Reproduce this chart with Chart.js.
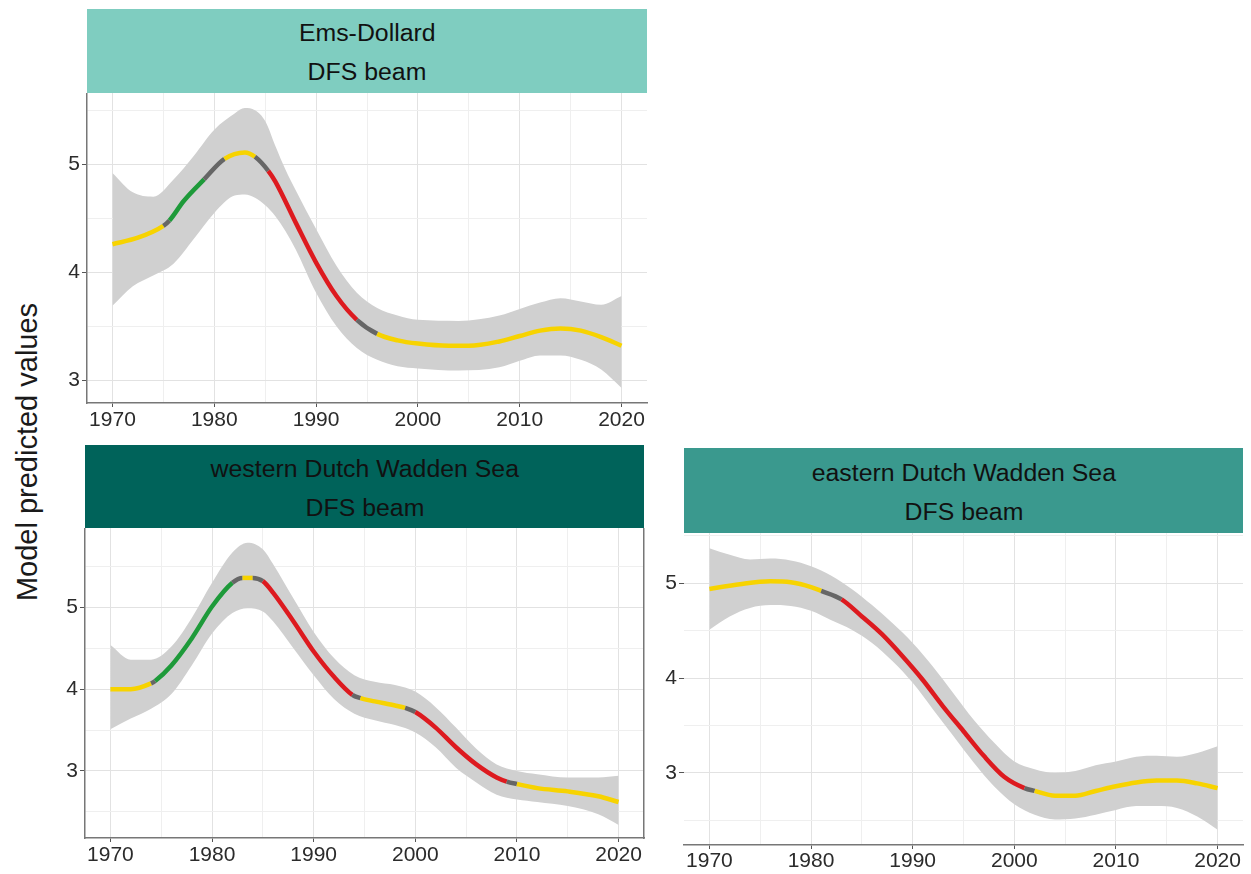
<!DOCTYPE html>
<html><head><meta charset="utf-8">
<script src="https://cdn.jsdelivr.net/npm/chart.js@4.4.1/dist/chart.umd.min.js"></script>
<style>
html,body{margin:0;padding:0;background:#fff;width:1251px;height:874px;overflow:hidden;font-family:"Liberation Sans",Arial,sans-serif;}
.strip{position:absolute;box-sizing:border-box;padding-top:4px;display:flex;flex-direction:column;justify-content:center;align-items:center;color:#111;font-size:23px;line-height:39px;}
.strip div{transform:scaleX(1.08);}
canvas{position:absolute;}
#ytitle{position:absolute;left:27px;top:452px;transform:translate(-50%,-50%) rotate(-90deg);font-size:29px;color:#1a1a1a;white-space:nowrap;}
</style></head><body>
<div id="ytitle">Model predicted values</div>
<div class="strip" style="left:87px;top:9px;width:560px;height:84px;background:#7fcdc0;"><div>Ems-Dollard</div><div>DFS beam</div></div>
<div class="strip" style="left:85px;top:445px;width:559px;height:83px;background:#00635a;"><div>western Dutch Wadden Sea</div><div>DFS beam</div></div>
<div class="strip" style="left:684px;top:448px;width:559px;height:85px;background:#3a998e;"><div>eastern Dutch Wadden Sea</div><div>DFS beam</div></div>
<canvas id="c1" width="620" height="340" style="left:37px;top:93px;"></canvas>
<canvas id="c2" width="619" height="340" style="left:35px;top:528px;"></canvas>
<canvas id="c3" width="617" height="341" style="left:634px;top:533px;"></canvas>
<script>
// ---- tick values / labels ----
const xTickValues = [1970,1975,1980,1985,1990,1995,2000,2005,2010,2015,2020];
const xTickLabels = ['1970','','1980','','1990','','2000','','2010','','2020'];
const yTickValues = [2.5,3,3.5,4,4.5,5,5.5];
const yTickLabels = ['','3','','4','','5',''];

// ---- Ems-Dollard ----
const emsFitYears = [1970,1972.5,1975,1975.6,1977,1979,1981,1983,1984,1985.3,1986,1988,1990,1992,1994,1996,1998,2000,2003,2005,2008,2010,2012,2014,2016,2018,2020];
const emsFit      = [4.26,4.32,4.43,4.48,4.66,4.86,5.05,5.11,5.07,4.94,4.84,4.46,4.09,3.78,3.56,3.43,3.37,3.34,3.32,3.32,3.36,3.41,3.46,3.48,3.46,3.40,3.32];
const emsBandYears = [1970,1972,1974,1976,1978,1980,1982,1983,1984,1985,1986,1987,1988,1990,1992,1994,1996,1998,2000,2004,2008,2010,2012,2014,2016,2018,2020];
const emsUpper = [4.92,4.74,4.70,4.86,5.08,5.32,5.47,5.52,5.50,5.40,5.17,4.95,4.76,4.40,4.06,3.81,3.67,3.60,3.56,3.55,3.60,3.66,3.72,3.76,3.73,3.70,3.78];
const emsLower = [3.69,3.87,3.97,4.08,4.31,4.55,4.71,4.72,4.69,4.62,4.52,4.38,4.21,3.81,3.50,3.30,3.19,3.13,3.11,3.09,3.12,3.18,3.23,3.23,3.19,3.10,2.93];
const emsTrendStart = [1970,1975,1975.6,1979,1981,1984,1985.3,1994,1996];
const emsTrendClass = ['none','transition','increase','transition','none','transition','decrease','transition','none'];

// ---- western Dutch Wadden Sea ----
const westFitYears = [1970,1972,1974,1974.4,1976,1978,1980,1982,1983,1984,1985,1986,1988,1990,1992,1993.8,1994.6,1996,1998,1999,2000,2002,2004,2006,2008,2009,2010,2012,2015,2018,2020];
const westFit      = [4.00,4.00,4.07,4.10,4.29,4.62,5.01,5.30,5.36,5.36,5.32,5.18,4.83,4.46,4.15,3.93,3.89,3.85,3.80,3.77,3.72,3.53,3.29,3.08,2.92,2.87,2.84,2.79,2.75,2.69,2.62];
const westBandYears = [1970,1972,1974,1976,1978,1980,1982,1983.5,1985,1986,1988,1990,1992,1994,1996,1998,2000,2002,2004,2006,2008,2010,2012,2015,2018,2020];
const westUpper = [4.54,4.36,4.36,4.52,4.87,5.30,5.67,5.79,5.71,5.53,5.11,4.70,4.38,4.17,4.09,4.05,3.97,3.78,3.53,3.27,3.08,3.00,2.96,2.92,2.92,2.94];
const westLower = [3.51,3.64,3.76,3.94,4.29,4.68,4.93,4.99,4.95,4.83,4.50,4.17,3.88,3.70,3.62,3.56,3.47,3.29,3.04,2.86,2.71,2.65,2.62,2.57,2.47,2.34];
const westTrendStart = [1970,1974,1974.4,1982,1983,1984,1985,1993.8,1994.6,1999,2000,2009,2010];
const westTrendClass = ['none','transition','increase','transition','none','transition','decrease','transition','none','transition','decrease','transition','none'];

// ---- eastern Dutch Wadden Sea ----
const eastFitYears = [1970,1973,1976,1978,1980,1981,1983,1985,1987,1989,1991,1993,1995,1997,1999,2001,2002,2004,2006,2008,2010,2012,2014,2016,2018,2020];
const eastFit      = [4.94,4.99,5.02,5.01,4.96,4.92,4.83,4.65,4.46,4.23,3.98,3.70,3.44,3.18,2.96,2.84,2.81,2.76,2.76,2.81,2.86,2.90,2.92,2.92,2.89,2.84];
const eastBandYears = [1970,1972,1974,1976,1978,1980,1982,1984,1986,1988,1990,1992,1994,1996,1998,2000,2002,2004,2006,2008,2010,2012,2014,2016,2018,2020];
const eastUpper = [5.37,5.30,5.25,5.26,5.24,5.18,5.08,4.94,4.77,4.58,4.37,4.12,3.84,3.56,3.32,3.12,3.04,3.00,3.02,3.08,3.12,3.17,3.18,3.17,3.21,3.28];
const eastLower = [4.51,4.65,4.74,4.77,4.76,4.71,4.61,4.51,4.37,4.18,3.95,3.67,3.39,3.11,2.86,2.67,2.56,2.51,2.52,2.56,2.61,2.65,2.65,2.63,2.54,2.40];
const eastTrendStart = [1970,1981,1983,2001,2002];
const eastTrendClass = ['none','transition','decrease','transition','none'];

// ---- styles ----
const trendColors = {none:'#f7d300', increase:'#1e9a3a', decrease:'#dd1a1f', transition:'#666666'};
const bandColor = '#d0d0d0';
const axisColor = '#777777';
const tickFont = {family:'"Liberation Sans", Arial, sans-serif', size:21};

function pts(xs, ys){ return xs.map((x,i)=>({x:x, y:ys[i]})); }
function classAt(starts, classes, x){
  let c = classes[0];
  for (let i=0;i<starts.length;i++) if (x >= starts[i]-1e-6) c = classes[i];
  return c;
}

function makeChart(id, o){
  return new Chart(document.getElementById(id), {
    type:'line',
    data:{datasets:[
      {data:pts(o.fitYears,o.fit), borderWidth:4.5, pointRadius:0, cubicInterpolationMode:'monotone', fill:false,
       borderCapStyle:'butt', borderColor:trendColors.none,
       segment:{borderColor: ctx => trendColors[classAt(o.starts,o.classes,ctx.p0.parsed.x)]}},
      {data:pts(o.bandYears,o.upper), borderWidth:0, borderColor:'rgba(0,0,0,0)', pointRadius:0, cubicInterpolationMode:'monotone', fill:'+1', backgroundColor:bandColor},
      {data:pts(o.bandYears,o.lower), borderWidth:0, borderColor:'rgba(0,0,0,0)', pointRadius:0, cubicInterpolationMode:'monotone', fill:false}
    ]},
    options:{
      animation:false, responsive:false, events:[],
      layout:{padding:{left:0,right:o.padRight,top:0,bottom:0}},
      plugins:{legend:{display:false}, tooltip:{enabled:false}},
      scales:{
        x:{type:'linear', min:1967.5, max:2022.5,
           afterBuildTicks: s => { s.ticks = xTickValues.map(v=>({value:v})); },
           afterFit: s => { s.height = o.xHeight; s.paddingLeft = 0; s.paddingRight = 0; },
           ticks:{autoSkip:false, maxRotation:0, padding:o.xPad, color:'#2b2b2b', font:tickFont,
                  callback:(v)=>{ const i = xTickValues.indexOf(v); return i>=0 ? xTickLabels[i] : ''; }},
           grid:{color: c => (c.tick && c.tick.value % 10 === 0) ? '#e2e2e2' : '#efefef', lineWidth:1,
                 tickLength:4, tickColor: c => (c.tick && c.tick.value % 10 === 0) ? '#555' : 'rgba(0,0,0,0)'},
           border:{display:true, color:axisColor, width:1.5}},
        y:{type:'linear', min:o.ymin, max:o.ymax,
           afterBuildTicks: s => { s.ticks = yTickValues.filter(v=>v>=o.ymin && v<=o.ymax).map(v=>({value:v})); },
           afterFit: s => { s.width = 50; s.paddingTop = 0; s.paddingBottom = 0; },
           ticks:{padding:2, color:'#2b2b2b', font:tickFont,
                  callback:(v)=>{ const i = yTickValues.indexOf(v); return i>=0 ? yTickLabels[i] : ''; }},
           grid:{color: c => (c.tick && Number.isInteger(c.tick.value)) ? '#e2e2e2' : '#efefef', lineWidth:1,
                 tickLength:5, tickColor: c => (c.tick && Number.isInteger(c.tick.value)) ? '#555' : 'rgba(0,0,0,0)'},
           border:{display:o.leftBorder, color:axisColor, width:1.5}},
        ...(o.rightBorder ? {y2:{type:'linear', position:'right', min:o.ymin, max:o.ymax,
           afterFit: s => { s.width = 0; s.paddingTop = 0; s.paddingBottom = 0; }, ticks:{display:false}, grid:{display:false, drawOnChartArea:false, drawTicks:false},
           border:{display:true, color:axisColor, width:1.5}}} : {})
      }
    }
  });
}

makeChart('c1', {fitYears:emsFitYears, fit:emsFit, bandYears:emsBandYears, upper:emsUpper, lower:emsLower,
  starts:emsTrendStart, classes:emsTrendClass, ymin:2.79, ymax:5.66, padRight:10, xHeight:30, xPad:1, leftBorder:true, rightBorder:false});
makeChart('c2', {fitYears:westFitYears, fit:westFit, bandYears:westBandYears, upper:westUpper, lower:westLower,
  starts:westTrendStart, classes:westTrendClass, ymin:2.18, ymax:5.97, padRight:10, xHeight:30, xPad:1, leftBorder:true, rightBorder:true});
makeChart('c3', {fitYears:eastFitYears, fit:eastFit, bandYears:eastBandYears, upper:eastUpper, lower:eastLower,
  starts:eastTrendStart, classes:eastTrendClass, ymin:2.24, ymax:5.53, padRight:8, xHeight:29, xPad:0, leftBorder:false, rightBorder:false});
</script>
</body></html>
